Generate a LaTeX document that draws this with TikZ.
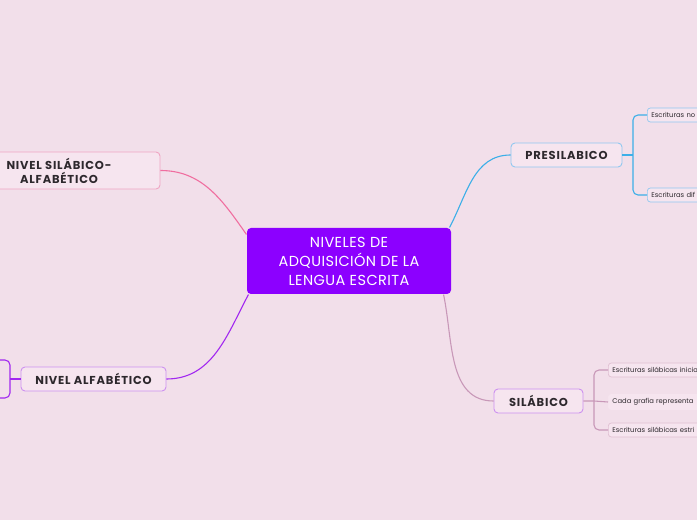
\documentclass[tikz,border=0pt]{standalone}
\usepackage{fontspec}
\setmainfont{Poppins}
\usepackage{tikz}
\usetikzlibrary{positioning, arrows.meta}

\definecolor{bgpink}{RGB}{242,223,234}
\definecolor{boxfill}{RGB}{246,229,239}
\definecolor{mainviolet}{RGB}{140,0,255}
\definecolor{txtdark}{RGB}{45,40,45}
\definecolor{pinkline}{RGB}{240,110,160}
\definecolor{pinkedge}{RGB}{240,165,195}
\definecolor{blueline}{RGB}{60,175,232}
\definecolor{blueedge}{RGB}{145,200,240}
\definecolor{mauveline}{RGB}{200,152,184}
\definecolor{mauveedge}{RGB}{224,192,210}
\definecolor{lilacedge}{RGB}{205,145,240}
\definecolor{purpleline}{RGB}{162,40,240}

\begin{document}
\begin{tikzpicture}[x=1pt, y=1pt, line width=1.1pt]
      \tikzstyle{topic}=[draw, fill=boxfill, rounded corners=4pt, line width=0.9pt, text=txtdark, font=\fontsize{11.5}{14}\selectfont\bfseries\addfontfeature{LetterSpace=7}, align=center, inner sep=2pt]
      \tikzstyle{leaf}=[draw, fill=boxfill, rounded corners=3pt, line width=0.7pt, text=txtdark, font=\fontsize{6.8}{7}\selectfont, anchor=west, minimum height=14pt, text width=130pt, align=left, inner sep=4pt]

      \useasboundingbox (0,0) rectangle (697,520);
      \fill[bgpink] (0,0) rectangle (697,520);
      \clip (0,0) rectangle (697,520);

      % Nodes
      \node[fill=mainviolet, rounded corners=4pt, text=white, minimum width=204pt, minimum height=66pt, align=center, font=\fontsize{14.5}{19}\selectfont\addfontfeature{LetterSpace=3}] (central) at (349,259) {NIVELES DE\\ADQUISICIÓN DE LA\\LENGUA ESCRITA};
      \node[topic, draw=blueedge, minimum width=111pt, minimum height=24pt] (pre) at (566.5,365) {PRESILABICO};
      \node[topic, draw=lilacedge, minimum width=89pt, minimum height=24pt] (sil) at (538.5,119) {SILÁBICO};
      \node[topic, draw=lilacedge, minimum width=145pt, minimum height=24pt] (alf) at (93.5,141) {NIVEL ALFABÉTICO};
      \node[topic, draw=pinkedge, minimum width=202pt, minimum height=37pt] (silalf) at (59,349.5) {NIVEL SILÁBICO-\\ALFABÉTICO};

      \node[leaf, draw=blueedge] (pre1) at (647,405) {Escrituras no};
      \node[leaf, draw=blueedge] (pre2) at (647,325) {Escrituras dif};
      \node[leaf, draw=mauveedge] (sil1) at (608,150) {Escrituras silábicas inicia};
      \node[leaf, draw=boxfill] (sil2) at (608,118) {Cada grafía representa};
      \node[leaf, draw=mauveedge] (sil3) at (608,90) {Escrituras silábicas estri};

      \coordinate (prefork) at (633,365);
      \coordinate (silfork) at (594,119);
      \coordinate (alffork) at (10,141);
      \coordinate (alfup) at (-5,160);
      \coordinate (alfdown) at (-5,122);

      % Edges
      \draw[blueline] ([xshift=-2pt]central.north east) to[out=62, in=180] (pre.west);
      \draw[mauveline] ([xshift=-8pt]central.south east) to[out=-78, in=180] (sil.west);
      \draw[pinkline] (silalf.east) to[out=0, in=125] ([yshift=-7pt]central.north west);
      \draw[purpleline] (alf.east) to[out=0, in=-118] ([xshift=2pt]central.south west);

      \draw[blueline] (pre.east) -- (prefork);
      \draw[blueline, rounded corners=5pt] (pre1.west) -| (prefork) |- (pre2.west);
      \draw[mauveline] (sil.east) -- (silfork) -- (sil2.west);
      \draw[mauveline, rounded corners=5pt] (sil1.west) -| (silfork) |- (sil3.west);
      \draw[purpleline] (alf.west) -- (alffork);
      \draw[purpleline, rounded corners=5pt] (alfup) -| (alffork) |- (alfdown);
\end{tikzpicture}
\end{document}
